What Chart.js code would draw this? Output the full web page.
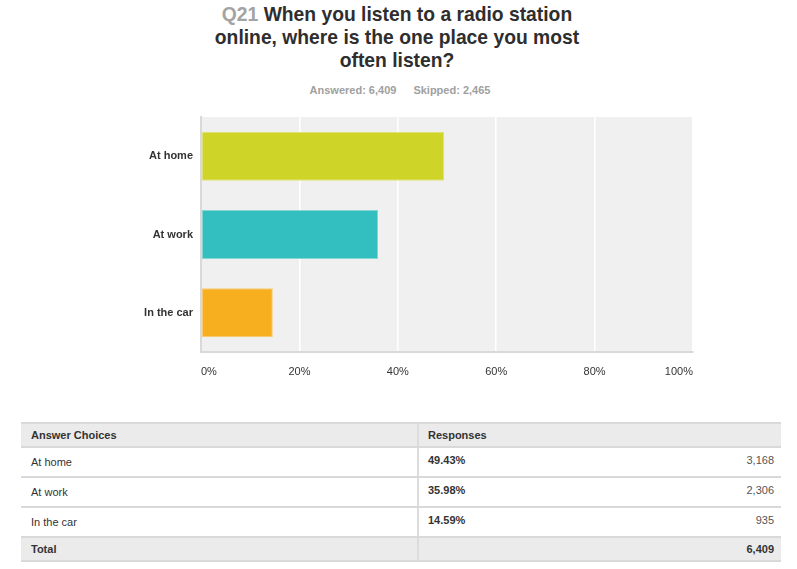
<!DOCTYPE html>
<html>
<head>
<meta charset="utf-8">
<script src="https://cdn.jsdelivr.net/npm/chart.js@4.4.0/dist/chart.umd.min.js"></script>
<style>
  html, body { margin: 0; padding: 0; background: #fff; }
  body { width: 797px; height: 569px; position: relative; overflow: hidden;
         font-family: "Liberation Sans", Arial, Helvetica, sans-serif; color: #333; }
  #title { position: absolute; left: 0; width: 794px; top: 3px; text-align: center;
           font-size: 19.3px; line-height: 23px; font-weight: bold; color: #2e2e2e; }
  #title .qnum { color: #a3a3a3; }
  #sub { position: absolute; left: 0; width: 800px; top: 84px; text-align: center;
         font-size: 11px; font-weight: bold; color: #a0a0a0; }
  #sub span + span { margin-left: 17px; }
  #chartBox { position: absolute; left: 0; top: 0; width: 797px; height: 400px; }
  #tbl { position: absolute; left: 21px; top: 422px; width: 760px; font-size: 11px; }
  .row { display: flex; border-top: 2px solid #d9d9d9; }
  .row.last { border-bottom: 2px solid #d9d9d9; }
  .row .c1 { width: 386px; padding-left: 10px; }
  .row .c2 { flex: 1; border-left: 2px solid #dcdcdc; padding-left: 9px; padding-right: 7px;
             display: flex; justify-content: space-between; }
  .row.head, .row.total { background: #ebebeb; font-weight: bold; height: 22px; line-height: 22px; }
  .row.body { height: 28px; line-height: 29px; background: #fff; }
  .row.body .c2 { line-height: 24px; }
  .row.body .pct { font-weight: bold; }
  .row.body .cnt { color: #555; }
</style>
</head>
<body>
<div id="title"><span class="qnum">Q21</span> When you listen to a radio station<br>online, where is the one place you most<br>often listen?</div>
<div id="sub"><span>Answered: 6,409</span><span>Skipped: 2,465</span></div>
<div id="chartBox"><canvas id="placeChart"></canvas></div>
<div id="tbl"></div>

<script>
// dados
const categories = ['At home', 'At work', 'In the car'];
const percents = [49.43, 35.98, 14.59];
const counts = [3168, 2306, 935];
const totalCount = 6409;
const xTicks = [0, 20, 40, 60, 80, 100];
const barColors = ['#cfd429', '#33bebf', '#f7af1f'];
const barEdges = ['#dfe27a', '#86d6d6', '#f9cb72'];

Chart.defaults.font.family = '"Liberation Sans", Arial, Helvetica, sans-serif';
Chart.defaults.color = '#333';

// fundo cinza da área do gráfico
const plotBackground = {
  id: 'plotBackground',
  beforeDraw(chart) {
    const { ctx, chartArea: a } = chart;
    ctx.save();
    ctx.fillStyle = '#f0f0f0';
    ctx.fillRect(a.left, a.top, a.right - a.left, a.bottom - a.top);
    ctx.restore();
  }
};

const ctx = document.getElementById('placeChart').getContext('2d');
const myChart = new Chart(ctx, {
  type: 'bar',
  data: {
    labels: categories,
    datasets: [{
      data: percents,
      backgroundColor: barColors,
      borderColor: barEdges,
      borderWidth: 1,
      borderSkipped: false,
      categoryPercentage: 1,
      barPercentage: 0.626,
    }],
  },
  options: {
    indexAxis: 'y',
    responsive: true,
    maintainAspectRatio: false,
    animation: false,
    layout: { padding: { top: 117, right: 104, left: 0, bottom: 0 } },
    plugins: {
      legend: { display: false },
      tooltip: { enabled: false },
    },
    scales: {
      x: {
        min: 0,
        max: 100,
        afterBuildTicks: scale => { scale.ticks = xTicks.map(v => ({ value: v })); },
        afterFit: scale => { scale.height = 48; },
        grid: {
          color: c => (c.index === 0 ? 'rgba(0,0,0,0)' : '#ffffff'),
          lineWidth: 1.5,
          drawTicks: false,
        },
        border: { color: '#d9d9d9', width: 2 },
        ticks: {
          align: 'inner',
          padding: 13,
          font: { size: 11 },
          color: '#333',
          callback: v => v + '%',
        },
      },
      y: {
        afterFit: scale => { scale.width = 201; },
        grid: { display: false, drawTicks: false },
        border: { color: '#d9d9d9', width: 2 },
        ticks: {
          padding: 8,
          font: { size: 11, weight: 'bold' },
          color: '#333',
        },
      },
    },
  },
  plugins: [plotBackground],
});

// tabela de respostas
const tbl = document.getElementById('tbl');
const fmt = n => n.toLocaleString('en-US');
let html = '<div class="row head"><div class="c1">Answer Choices</div><div class="c2"><span>Responses</span></div></div>';
categories.forEach((cat, i) => {
  html += '<div class="row body"><div class="c1">' + cat + '</div><div class="c2"><span class="pct">' +
    percents[i].toFixed(2) + '%</span><span class="cnt">' + fmt(counts[i]) + '</span></div></div>';
});
html += '<div class="row total last"><div class="c1">Total</div><div class="c2"><span></span><span>' + fmt(totalCount) + '</span></div></div>';
tbl.innerHTML = html;
</script>
</body>
</html>
